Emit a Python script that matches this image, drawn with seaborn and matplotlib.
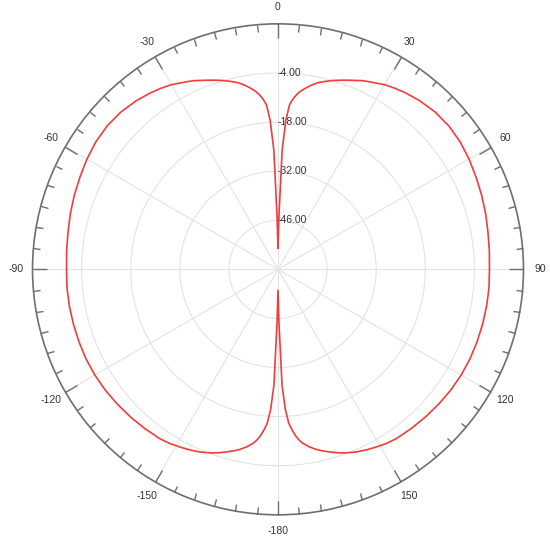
import numpy as np
import pandas as pd
import matplotlib
matplotlib.use('Agg')
import matplotlib.pyplot as plt
import seaborn as sns

sns.set_style('white')
plt.rcParams['font.family'] = ['Liberation Sans', 'DejaVu Sans']

# gain pattern (dB), right half; left half is the mirror image
upper_deg = [0, 1, 2, 3, 4, 5, 6, 7, 8, 9, 10, 12, 14, 16, 18, 20, 22, 24, 26, 28, 30, 33, 36, 40,
             45, 50, 55, 60, 65, 70, 75, 80, 85, 90]
upper_db = [-54, -45, -26, -17.5, -13, -11.3, -10, -9.0, -8.2, -7.5, -6.8, -5.6, -4.8, -4.0, -3.3,
            -2.6, -1.9, -1.1, -0.5, 0.1, 0.8, 1.5, 2.1, 2.8, 3.4, 3.6, 3.4, 2.9, 2.3, 1.8, 1.3, 0.8,
            0.5, 0.3]
lower_deg = [95, 100, 105, 110, 115, 120, 125, 130, 135, 140, 145, 148, 151, 154, 157, 160, 162,
             164, 166, 168, 170, 172, 173, 174, 175, 176, 177, 178, 179, 180]
lower_db = [0.4, 0.4, 0.4, 0.4, 0.4, 0.3, 0.1, -0.2, -0.5, -0.8, -1.1, -1.5, -2.1, -2.7, -3.4, -4.3,
            -5.0, -5.8, -6.6, -7.5, -8.6, -10, -11, -12.3, -14, -16, -20, -27, -45, -54]

ring_vals = [-46, -32, -18, -4]
ring_labels = ['-46.00', '-32.00', '-18.00', '-4.00']
theta_tick_deg = list(range(0, 360, 30))
theta_tick_labels = ['0', '30', '60', '90', '120', '150', '-180', '-150', '-120', '-90', '-60', '-30']

half_deg = upper_deg + lower_deg
half_db = upper_db + lower_db
all_deg = half_deg + [360 - d for d in reversed(half_deg[:-1])]
all_db = half_db + list(reversed(half_db[:-1]))
df = pd.DataFrame({'theta': np.deg2rad(all_deg), 'gain': all_db})

fig = plt.figure(figsize=(5.5, 5.37), dpi=100)
ax = fig.add_axes([0.0591, 0.0413, 0.8927, 0.9143], projection='polar')
ax.set_theta_zero_location('N')
ax.set_theta_direction(-1)

sns.lineplot(data=df, x='theta', y='gain', sort=False, estimator=None,
             color='#f03c3c', linewidth=1.2, ax=ax)

ax.set_ylim(-60, 10)
ax.set_yticks(ring_vals)
ax.set_yticklabels(ring_labels)
ax.set_rlabel_position(0)
for t in ax.get_yticklabels():
    t.set_ha('left')
    t.set_va('center')
ax.tick_params(axis='y', labelsize=7.5, labelcolor='#333333', pad=0)

ax.set_xticks(np.deg2rad(theta_tick_deg))
ax.set_xticklabels(theta_tick_labels)
ax.set_xticks(np.deg2rad(range(0, 360, 5)), minor=True)
ax.tick_params(axis='x', which='both', bottom=False, top=True)
ax.tick_params(axis='x', which='major', direction='in', length=10, width=1,
               color='#6e6e6e', pad=5, labelsize=7.5, labelcolor='#333333')
ax.tick_params(axis='x', which='minor', direction='in', length=5, width=1, color='#6e6e6e')

ax.grid(True, color='#e3e3e3', linewidth=0.8)
ax.spines['polar'].set_color('#6e6e6e')
ax.spines['polar'].set_linewidth(1.2)
ax.set_xlabel('')
ax.set_ylabel('')

fig.savefig('out.png', dpi=100)
